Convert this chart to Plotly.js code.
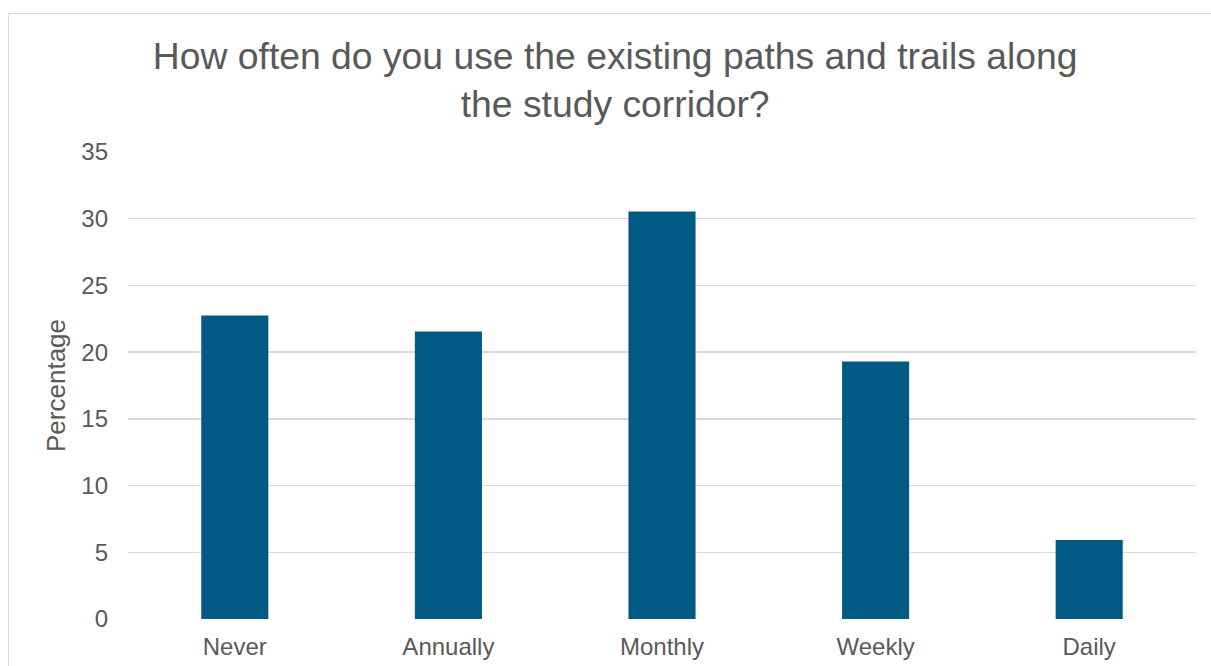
<!DOCTYPE html>
<html>
<head>
<meta charset="utf-8">
<script src="https://cdn.plot.ly/plotly-3.0.1.min.js"></script>
<style>
  html, body { margin: 0; padding: 0; background: #ffffff; }
  #frame { position: absolute; left: 8px; top: 13px; width: 1220px; height: 670px; border: 1px solid #d9d9d9; box-sizing: border-box; }
  #chart { position: absolute; left: 0; top: 0; width: 1211px; height: 666px; }
</style>
</head>
<body>
<div id="frame"></div>
<div id="chart"></div>
<script>
const categories = ["Never", "Annually", "Monthly", "Weekly", "Daily"];
const percentages = [22.75, 21.55, 30.55, 19.3, 5.93];
const titleText = "How often do you use the existing paths and trails along<br>the study corridor?";
const yTitle = "Percentage";
const yTicks = [0, 5, 10, 15, 20, 25, 30, 35];

const textColor = "#595959";
const fontFamily = "Liberation Sans, Arial, sans-serif";

Plotly.newPlot("chart", [{
  type: "bar",
  x: categories,
  y: percentages,
  marker: { color: "#005a84" },
  hoverinfo: "x+y"
}], {
  width: 1211,
  height: 666,
  paper_bgcolor: "rgba(0,0,0,0)",
  plot_bgcolor: "rgba(0,0,0,0)",
  margin: { l: 128, r: 15, t: 152, b: 47 },
  bargap: 0.686,
  showlegend: false,
  title: {
    text: titleText,
    font: { family: fontFamily, size: 37.3, color: textColor },
    xref: "container", x: 0.508, xanchor: "center",
    yref: "container", y: 1 - 69 / 666, yanchor: "middle"
  },
  xaxis: {
    showgrid: false,
    zeroline: false,
    showline: false,
    ticks: "",
    ticklabelstandoff: 11,
    tickfont: { family: fontFamily, size: 24, color: textColor }
  },
  yaxis: {
    range: [0, 35],
    tickvals: yTicks,
    ticktext: yTicks.map(String),
    showgrid: true,
    gridcolor: "#d9d9d9",
    gridwidth: 1.3,
    zeroline: false,
    showline: false,
    ticks: "",
    ticklabelstandoff: 19,
    tickfont: { family: fontFamily, size: 24, color: textColor },
    title: { text: yTitle, font: { family: fontFamily, size: 26, color: textColor }, standoff: 8 }
  },
  font: { family: fontFamily, color: textColor }
}, { displayModeBar: false, staticPlot: true });
</script>
</body>
</html>
